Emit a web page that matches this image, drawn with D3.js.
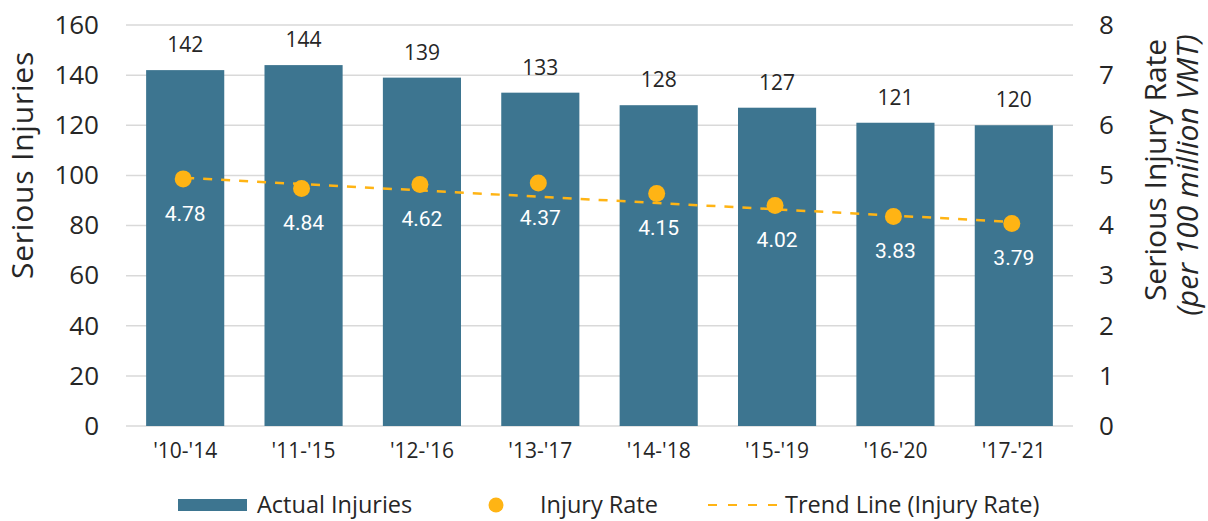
<!DOCTYPE html>
<html>
<head>
<meta charset="utf-8">
<script src="https://cdn.jsdelivr.net/npm/d3@7"></script>
<style>
    body { margin: 0; background: #fff; }
    text { font-family: "Open Sans", "DejaVu Sans", sans-serif; fill: #262626; }
    .rateLabel { font-family: Roboto, sans-serif; fill: #fff; }
</style>
</head>
<body>
<svg class="chart"></svg>
<script>
var categories = ["'10-'14", "'11-'15", "'12-'16", "'13-'17", "'14-'18", "'15-'19", "'16-'20", "'17-'21"];
var injuries = [142, 144, 139, 133, 128, 127, 121, 120];
// dot positions as drawn in the picture, and the printed labels
var ratePoints = [4.93, 4.74, 4.82, 4.85, 4.64, 4.40, 4.18, 4.04];
var rateLabels = ["4.78", "4.84", "4.62", "4.37", "4.15", "4.02", "3.83", "3.79"];
var trendEnds = [4.95, 4.07];
var leftTicks = [0, 20, 40, 60, 80, 100, 120, 140, 160];
var rightTicks = [0, 1, 2, 3, 4, 5, 6, 7, 8];
var legendLabels = ["Actual Injuries", "Injury Rate", "Trend Line (Injury Rate)"];

var barColor = "#3d7590";
var dotColor = "#ffb414";

drawChart();

function drawChart() {
    var width = 1208, height = 521;
    var plot = {left: 126, right: 1073, top: 25, bottom: 426};

    var svg = d3.select(".chart")
            .attr("width", width)
            .attr("height", height);

    var x = d3.scaleBand()
            .domain(categories)
            .range([plot.left, plot.right])
            .paddingInner(0.34)
            .paddingOuter(0.17);
    var yLeft = d3.scaleLinear().domain([0, 160]).range([plot.bottom, plot.top]);
    var yRight = d3.scaleLinear().domain([0, 8]).range([plot.bottom, plot.top]);

    // gridlines
    svg.append("g").selectAll("line")
            .data(leftTicks)
            .enter().append("line")
            .attr("x1", plot.left)
            .attr("x2", plot.right)
            .attr("y1", function (d) { return yLeft(d); })
            .attr("y2", function (d) { return yLeft(d); })
            .attr("stroke", "#d9d9d9")
            .attr("stroke-width", 1.5);

    // axes (labels only)
    var leftAxis = svg.append("g")
            .attr("transform", "translate(" + plot.left + ",0)")
            .call(d3.axisLeft(yLeft).tickValues(leftTicks).tickSize(0).tickPadding(27));
    leftAxis.select(".domain").remove();
    leftAxis.selectAll("text").style("font-size", "26px").attr("fill", "#262626")
            .style("font-family", "'Open Sans', sans-serif");

    var rightAxis = svg.append("g")
            .attr("transform", "translate(" + plot.right + ",0)")
            .call(d3.axisRight(yRight).tickValues(rightTicks).tickSize(0).tickPadding(26));
    rightAxis.select(".domain").remove();
    rightAxis.selectAll("text").style("font-size", "26px").attr("fill", "#262626")
            .style("font-family", "'Open Sans', sans-serif");

    var bottomAxis = svg.append("g")
            .attr("transform", "translate(0," + plot.bottom + ")")
            .call(d3.axisBottom(x).tickSize(0).tickPadding(17));
    bottomAxis.select(".domain").remove();
    bottomAxis.selectAll("text").style("font-size", "21px").attr("fill", "#262626")
            .style("font-family", "'Open Sans', sans-serif");

    // axis titles
    svg.append("text")
            .attr("transform", "translate(33,165) rotate(-90)")
            .style("text-anchor", "middle")
            .style("font-size", "30px")
            .style("letter-spacing", "0.8px")
            .text("Serious Injuries");
    svg.append("text")
            .attr("transform", "translate(1166,170) rotate(-90)")
            .style("text-anchor", "middle")
            .style("font-size", "30px")
            .text("Serious Injury Rate");
    svg.append("text")
            .attr("transform", "translate(1198,175) rotate(-90)")
            .style("text-anchor", "middle")
            .style("font-size", "30px")
            .style("font-style", "italic")
            .text("(per 100 million VMT)");

    // bars
    svg.append("g").selectAll("rect")
            .data(injuries)
            .enter().append("rect")
            .attr("x", function (d, i) { return x(categories[i]); })
            .attr("y", function (d) { return yLeft(d); })
            .attr("width", x.bandwidth())
            .attr("height", function (d) { return plot.bottom - yLeft(d); })
            .attr("fill", barColor);

    svg.append("g").selectAll("text")
            .data(injuries)
            .enter().append("text")
            .attr("x", function (d, i) { return x(categories[i]) + x.bandwidth() / 2; })
            .attr("y", function (d) { return yLeft(d) - 18; })
            .style("text-anchor", "middle")
            .style("font-size", "21px")
            .text(function (d) { return d; });

    // trend line
    var first = x(categories[0]) + x.bandwidth() / 2;
    var last = x(categories[categories.length - 1]) + x.bandwidth() / 2;
    svg.append("line")
            .attr("x1", first)
            .attr("x2", last)
            .attr("y1", yRight(trendEnds[0]))
            .attr("y2", yRight(trendEnds[1]))
            .attr("stroke", dotColor)
            .attr("stroke-width", 2.5)
            .attr("stroke-dasharray", "9,9");

    // rate dots
    svg.append("g").selectAll("circle")
            .data(ratePoints)
            .enter().append("circle")
            .attr("cx", function (d, i) { return x(categories[i]) + x.bandwidth() / 2 - 2; })
            .attr("cy", function (d) { return yRight(d); })
            .attr("r", 8.5)
            .attr("fill", dotColor);

    svg.append("g").selectAll("text")
            .data(rateLabels)
            .enter().append("text")
            .attr("class", "rateLabel")
            .attr("x", function (d, i) { return x(categories[i]) + x.bandwidth() / 2; })
            .attr("y", function (d, i) { return yRight(ratePoints[i]) + 42; })
            .style("text-anchor", "middle")
            .style("font-size", "21px")
            .text(function (d) { return d; });

    // legend
    var legend = svg.append("g");
    legend.append("rect")
            .attr("x", 178).attr("y", 499)
            .attr("width", 69).attr("height", 12)
            .attr("fill", barColor);
    legend.append("text")
            .attr("x", 257).attr("y", 513)
            .style("font-size", "23.5px")
            .text(legendLabels[0]);
    legend.append("circle")
            .attr("cx", 496).attr("cy", 505).attr("r", 7.5)
            .attr("fill", dotColor);
    legend.append("text")
            .attr("x", 540).attr("y", 513)
            .style("font-size", "23.5px")
            .text(legendLabels[1]);
    legend.append("line")
            .attr("x1", 708).attr("x2", 778)
            .attr("y1", 505).attr("y2", 505)
            .attr("stroke", dotColor)
            .attr("stroke-width", 2)
            .attr("stroke-dasharray", "9,11");
    legend.append("text")
            .attr("x", 785).attr("y", 513)
            .style("font-size", "23.5px")
            .text(legendLabels[2]);
}
</script>
</body>
</html>
